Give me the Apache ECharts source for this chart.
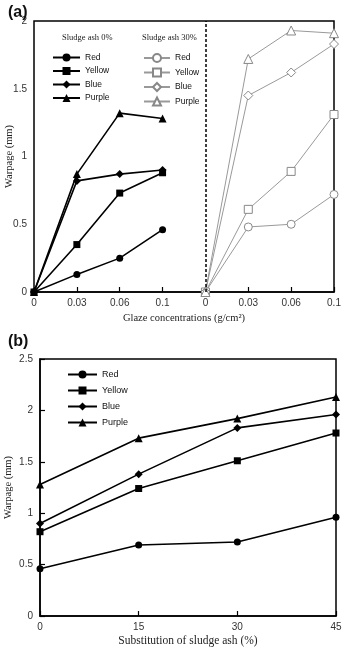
<!DOCTYPE html>
<html>
<head>
<meta charset="utf-8">
<script src="https://cdn.jsdelivr.net/npm/echarts@6/dist/echarts.min.js"></script>
<style>
  html, body { margin: 0; padding: 0; background: #fff; }
  #chart { width: 343px; height: 647px; }
</style>
</head>
<body>
<div id="chart"></div>
<script>
// panel (a): glaze concentration, two halves (0% and 30% sludge ash)
const glazeLabels = ['0', '0.03', '0.06', '0.1'];
const red0 = [0, 0.13, 0.25, 0.46];
const yellow0 = [0, 0.35, 0.73, 0.88];
const blue0 = [0, 0.82, 0.87, 0.90];
const purple0 = [0, 0.87, 1.32, 1.28];
const red30 = [0, 0.48, 0.50, 0.72];
const yellow30 = [0, 0.61, 0.89, 1.31];
const blue30 = [0, 1.45, 1.62, 1.83];
const purple30 = [0, 1.72, 1.93, 1.91];

// panel (b): substitution of sludge ash
const ashPct = [0, 15, 30, 45];
const redB = [0.46, 0.69, 0.72, 0.96];
const yellowB = [0.82, 1.24, 1.51, 1.78];
const blueB = [0.90, 1.38, 1.83, 1.96];
const purpleB = [1.28, 1.73, 1.92, 2.13];

const colorNames = ['Red', 'Yellow', 'Blue', 'Purple'];
const symbols = ['circle', 'rect', 'diamond', 'triangle'];
const sizes = [7, 7, 8, 8];

const sans = 'Liberation Sans, Arial, sans-serif';
const serif = 'Liberation Serif, Times New Roman, serif';

const chart = echarts.init(document.getElementById('chart'));

const xCats = glazeLabels.concat(glazeLabels);

function solid(name, vals, i, xIdx, offset, pairsX) {
  return {
    name: name,
    type: 'line',
    xAxisIndex: xIdx,
    yAxisIndex: xIdx,
    symbol: symbols[i],
    symbolSize: sizes[i],
    data: vals.map((v, k) => [pairsX ? pairsX[k] : k + offset, v]),
    lineStyle: { color: '#000', width: 1.6 },
    itemStyle: { color: '#000' },
    z: 3,
    animation: false
  };
}

function hollow(name, vals, i) {
  return {
    name: name,
    type: 'line',
    xAxisIndex: 0,
    yAxisIndex: 0,
    symbol: symbols[i],
    symbolSize: sizes[i] + 1,
    data: vals.map((v, k) => [k + 4, v]),
    lineStyle: { color: '#999', width: 1 },
    itemStyle: { color: '#fff', borderColor: '#888', borderWidth: 1 },
    z: 2,
    animation: false
  };
}

const set0 = [red0, yellow0, blue0, purple0];
const set30 = [red30, yellow30, blue30, purple30];
const setB = [redB, yellowB, blueB, purpleB];

const series = [];
set0.forEach((vals, i) => series.push(solid(colorNames[i], vals, i, 0, 0)));
set30.forEach((vals, i) => series.push(hollow(colorNames[i] + ' 30%', vals, i)));
setB.forEach((vals, i) => series.push(solid(colorNames[i] + ' b', vals, i, 1, 0, ashPct)));

// dashed divider between the two halves of (a)
series[0].markLine = {
  silent: true,
  symbol: 'none',
  label: { show: false },
  lineStyle: { color: '#000', type: [3, 2], width: 1.5 },
  data: [{ xAxis: 4 }]
};

const tickLabel = { color: '#333', fontSize: 10, fontFamily: sans };
const axisLine = { lineStyle: { color: '#000', width: 1.5 } };
const axisTick = { inside: true, length: 5, lineStyle: { color: '#000', width: 1.2 } };
const nameStyle = { color: '#222', fontSize: 10.5, fontFamily: serif };

const legendBase = {
  orient: 'vertical',
  itemHeight: 10,
  textStyle: { color: '#111', fontSize: 8.5, fontFamily: sans },
  selectedMode: false
};

chart.setOption({
  animation: false,
  title: [
    { text: '(a)', left: 3, top: 0, textStyle: { fontSize: 16, fontWeight: 'bold', fontFamily: sans, color: '#111' } },
    { text: '(b)', left: 3, top: 329, textStyle: { fontSize: 16, fontWeight: 'bold', fontFamily: sans, color: '#111' } },
    { text: 'Sludge ash 0%', left: 57, top: 28, textStyle: { fontSize: 8.5, fontWeight: 'normal', fontFamily: serif, color: '#222' } },
    { text: 'Sludge ash 30%', left: 137, top: 28, textStyle: { fontSize: 8.5, fontWeight: 'normal', fontFamily: serif, color: '#222' } }
  ],
  legend: [
    Object.assign({}, legendBase, {
      left: 47, top: 48, itemWidth: 27, itemGap: 4.5,
      data: colorNames
    }),
    Object.assign({}, legendBase, {
      left: 138, top: 48, itemWidth: 26, itemGap: 4.5,
      data: colorNames.map(n => n + ' 30%'),
      formatter: n => n.replace(' 30%', '')
    }),
    Object.assign({}, legendBase, {
      left: 62, top: 365, itemWidth: 29, itemGap: 7,
      textStyle: { color: '#111', fontSize: 9, fontFamily: sans },
      data: colorNames.map(n => n + ' b'),
      formatter: n => n.replace(' b', '')
    })
  ],
  grid: [
    { left: 34, top: 21, width: 300, height: 271, containLabel: false, outerBoundsMode: 'none', show: true, borderColor: '#000', borderWidth: 1.5 },
    { left: 40, top: 359, width: 296, height: 257, containLabel: false, outerBoundsMode: 'none', show: true, borderColor: '#000', borderWidth: 1.5 }
  ],
  xAxis: [
    {
      gridIndex: 0,
      type: 'category',
      data: xCats,
      boundaryGap: false,
      axisLine: axisLine,
      axisTick: Object.assign({ interval: 0 }, axisTick),
      axisLabel: Object.assign({ interval: 0, margin: 6 }, tickLabel),
      splitLine: { show: false },
      name: 'Glaze concentrations (g/cm²)',
      nameLocation: 'middle',
      nameGap: 21,
      nameTextStyle: nameStyle
    },
    {
      gridIndex: 1,
      type: 'value',
      min: 0, max: 45, interval: 15,
      axisLine: axisLine,
      axisTick: axisTick,
      axisLabel: Object.assign({ margin: 6 }, tickLabel),
      splitLine: { show: false },
      name: 'Substitution of sludge ash (%)',
      nameLocation: 'middle',
      nameGap: 19,
      nameTextStyle: Object.assign({}, nameStyle, { fontSize: 11.5 })
    }
  ],
  yAxis: [
    {
      gridIndex: 0,
      type: 'value',
      min: 0, max: 2, interval: 0.5,
      axisLine: axisLine,
      axisTick: axisTick,
      axisLabel: Object.assign({ margin: 7 }, tickLabel),
      splitLine: { show: false },
      name: 'Warpage (mm)',
      nameLocation: 'middle',
      nameMoveOverlap: false,
      nameGap: 19,
      nameTextStyle: nameStyle
    },
    {
      gridIndex: 1,
      type: 'value',
      min: 0, max: 2.5, interval: 0.5,
      axisLine: axisLine,
      axisTick: axisTick,
      axisLabel: Object.assign({ margin: 7 }, tickLabel),
      splitLine: { show: false },
      name: 'Warpage (mm)',
      nameMoveOverlap: false,
      nameLocation: 'middle',
      nameGap: 26,
      nameTextStyle: nameStyle
    }
  ],
  series: series
});
</script>
</body>
</html>
